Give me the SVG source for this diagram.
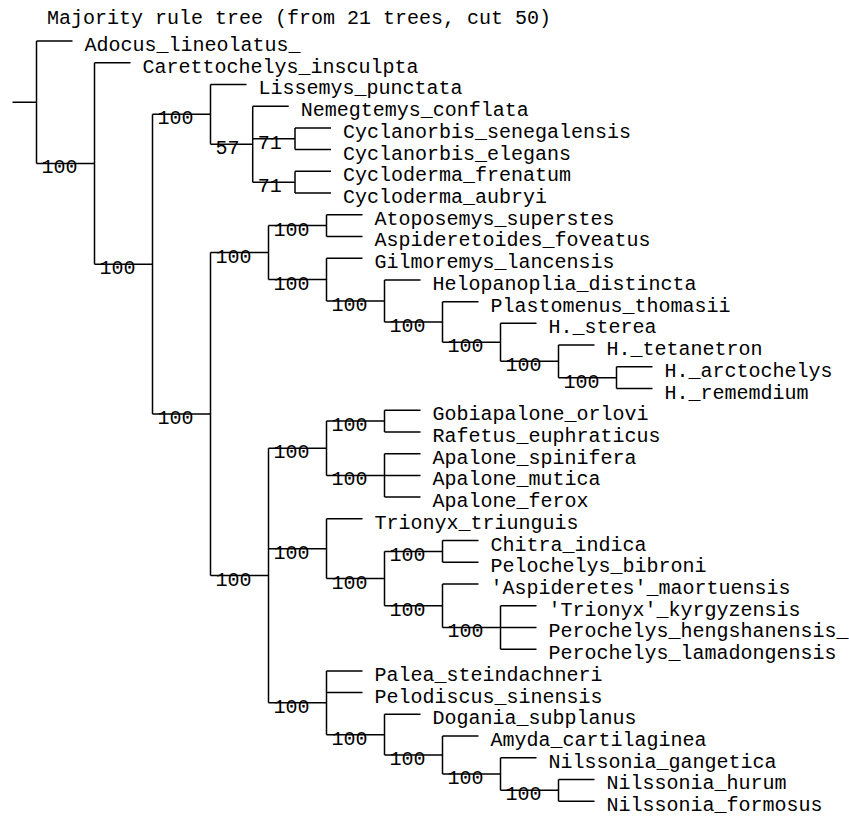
<svg xmlns="http://www.w3.org/2000/svg" width="849" height="816" viewBox="0 0 849 816">
<style>
text{font-family:"Liberation Mono","Courier New",monospace;font-size:20px;fill:#000}
.c path{fill:none;stroke:#000;stroke-width:1.5}
</style>
<rect width="849" height="816" fill="#fff"/>
<text id="title" x="47" y="23.5">Majority rule tree (from 21 trees, cut 50)</text>
<g class="c" id="connectors">
<path d="M12.5 102.23H36.5M36.5 41V163.45M36.5 41H72.5M36.5 163.45H94.5"/>
<path d="M94.5 62.72V264.18M94.5 62.72H130.5M94.5 264.18H152.5"/>
<path d="M152.5 114.31V414.06M152.5 114.31H210.5M152.5 414.06H210.5"/>
<path d="M210.5 84.44V144.17M210.5 84.44H246.5M210.5 144.17H252.7"/>
<path d="M252.7 106.16V182.18M252.7 106.16H288.7M252.7 138.74H295M252.7 182.18H295"/>
<path d="M295 127.88V149.6M295 127.88H331M295 149.6H331M295 171.32V193.04M295 171.32H331M295 193.04H331"/>
<path d="M210.5 252.6V575.52M210.5 252.6H268.5M210.5 575.52H268.5"/>
<path d="M268.5 225.62V279.58M268.5 225.62H326.5M268.5 279.58H326.5"/>
<path d="M326.5 214.76V236.48M326.5 214.76H362.5M326.5 236.48H362.5"/>
<path d="M326.5 258.2V300.96M326.5 258.2H362.5M326.5 300.96H384.5"/>
<path d="M384.5 279.92V322M384.5 279.92H420.5M384.5 322H442.5"/>
<path d="M442.5 301.64V342.37M442.5 301.64H478.5M442.5 342.37H500.5"/>
<path d="M500.5 323.36V361.37M500.5 323.36H536.5M500.5 361.37H558.5"/>
<path d="M558.5 345.08V377.66M558.5 345.08H594.5M558.5 377.66H616.5"/>
<path d="M616.5 366.8V388.52M616.5 366.8H652.5M616.5 388.52H652.5"/>
<path d="M268.5 448.25V702.78M268.5 448.25H326.5M268.5 548.71H326.5M268.5 702.78H326.5"/>
<path d="M326.5 421.1V475.4M326.5 421.1H384.5M326.5 475.4H384.5"/>
<path d="M384.5 410.24V431.96M384.5 410.24H420.5M384.5 431.96H420.5"/>
<path d="M384.5 453.68V497.12M384.5 453.68H420.5M384.5 475.4H420.5M384.5 497.12H420.5"/>
<path d="M326.5 518.84V578.57M326.5 518.84H362.5M326.5 578.57H384.5"/>
<path d="M384.5 551.42V605.72M384.5 551.42H442.5M384.5 605.72H442.5"/>
<path d="M442.5 540.56V562.28M442.5 540.56H478.5M442.5 562.28H478.5"/>
<path d="M442.5 584V627.44M442.5 584H478.5M442.5 627.44H500.5"/>
<path d="M500.5 605.72V649.16M500.5 605.72H536.5M500.5 627.44H536.5M500.5 649.16H536.5"/>
<path d="M326.5 670.88V734.68M326.5 670.88H362.5M326.5 692.6H362.5M326.5 734.68H384.5"/>
<path d="M384.5 714.32V755.05M384.5 714.32H420.5M384.5 755.05H442.5"/>
<path d="M442.5 736.04V774.05M442.5 736.04H478.5M442.5 774.05H500.5"/>
<path d="M500.5 757.76V790.34M500.5 757.76H536.5M500.5 790.34H558.5"/>
<path d="M558.5 779.48V801.2M558.5 779.48H594.5M558.5 801.2H594.5"/>
</g>
<g id="support">
<g id="n1"><text x="41.5" y="173.45">100</text></g>
<g id="n2"><text x="99.5" y="274.18">100</text></g>
<g id="n3"><text x="157.5" y="124.31">100</text></g>
<g id="n5"><text x="215.5" y="154.17">57</text></g>
<g id="n6"><text x="257.7" y="148.74">71</text></g>
<g id="n7"><text x="257.7" y="192.18">71</text></g>
<g id="n4"><text x="157.5" y="424.06">100</text></g>
<g id="n8"><text x="215.5" y="262.6">100</text></g>
<g id="n10"><text x="273.5" y="235.62">100</text></g>
<g id="n11"><text x="273.5" y="289.58">100</text></g>
<g id="n12"><text x="331.5" y="310.96">100</text></g>
<g id="n13"><text x="389.5" y="332">100</text></g>
<g id="n14"><text x="447.5" y="352.37">100</text></g>
<g id="n15"><text x="505.5" y="371.37">100</text></g>
<g id="n16"><text x="563.5" y="387.66">100</text></g>
<g id="n9"><text x="215.5" y="585.52">100</text></g>
<g id="n17"><text x="273.5" y="458.25">100</text></g>
<g id="n20"><text x="331.5" y="431.1">100</text></g>
<g id="n21"><text x="331.5" y="485.4">100</text></g>
<g id="n18"><text x="273.5" y="558.71">100</text></g>
<g id="n22"><text x="331.5" y="588.57">100</text></g>
<g id="n23"><text x="389.5" y="561.42">100</text></g>
<g id="n24"><text x="389.5" y="615.72">100</text></g>
<g id="n25"><text x="447.5" y="637.44">100</text></g>
<g id="n19"><text x="273.5" y="712.78">100</text></g>
<g id="n26"><text x="331.5" y="744.68">100</text></g>
<g id="n27"><text x="389.5" y="765.05">100</text></g>
<g id="n28"><text x="447.5" y="784.05">100</text></g>
<g id="n29"><text x="505.5" y="800.34">100</text></g>
</g>
<g id="taxa">
<g id="t0"><text x="84.5" y="51">Adocus_lineolatus_</text></g>
<g id="t1"><text x="142.5" y="72.72">Carettochelys_insculpta</text></g>
<g id="t2"><text x="258.5" y="94.44">Lissemys_punctata</text></g>
<g id="t3"><text x="300.7" y="116.16">Nemegtemys_conflata</text></g>
<g id="t4"><text x="343" y="137.88">Cyclanorbis_senegalensis</text></g>
<g id="t5"><text x="343" y="159.6">Cyclanorbis_elegans</text></g>
<g id="t6"><text x="343" y="181.32">Cycloderma_frenatum</text></g>
<g id="t7"><text x="343" y="203.04">Cycloderma_aubryi</text></g>
<g id="t8"><text x="374.5" y="224.76">Atoposemys_superstes</text></g>
<g id="t9"><text x="374.5" y="246.48">Aspideretoides_foveatus</text></g>
<g id="t10"><text x="374.5" y="268.2">Gilmoremys_lancensis</text></g>
<g id="t11"><text x="432.5" y="289.92">Helopanoplia_distincta</text></g>
<g id="t12"><text x="490.5" y="311.64">Plastomenus_thomasii</text></g>
<g id="t13"><text x="548.5" y="333.36">H._sterea</text></g>
<g id="t14"><text x="606.5" y="355.08">H._tetanetron</text></g>
<g id="t15"><text x="664.5" y="376.8">H._arctochelys</text></g>
<g id="t16"><text x="664.5" y="398.52">H._rememdium</text></g>
<g id="t17"><text x="432.5" y="420.24">Gobiapalone_orlovi</text></g>
<g id="t18"><text x="432.5" y="441.96">Rafetus_euphraticus</text></g>
<g id="t19"><text x="432.5" y="463.68">Apalone_spinifera</text></g>
<g id="t20"><text x="432.5" y="485.4">Apalone_mutica</text></g>
<g id="t21"><text x="432.5" y="507.12">Apalone_ferox</text></g>
<g id="t22"><text x="374.5" y="528.84">Trionyx_triunguis</text></g>
<g id="t23"><text x="490.5" y="550.56">Chitra_indica</text></g>
<g id="t24"><text x="490.5" y="572.28">Pelochelys_bibroni</text></g>
<g id="t25"><text x="490.5" y="594">'Aspideretes'_maortuensis</text></g>
<g id="t26"><text x="548.5" y="615.72">'Trionyx'_kyrgyzensis</text></g>
<g id="t27"><text x="548.5" y="637.44">Perochelys_hengshanensis_</text></g>
<g id="t28"><text x="548.5" y="659.16">Perochelys_lamadongensis</text></g>
<g id="t29"><text x="374.5" y="680.88">Palea_steindachneri</text></g>
<g id="t30"><text x="374.5" y="702.6">Pelodiscus_sinensis</text></g>
<g id="t31"><text x="432.5" y="724.32">Dogania_subplanus</text></g>
<g id="t32"><text x="490.5" y="746.04">Amyda_cartilaginea</text></g>
<g id="t33"><text x="548.5" y="767.76">Nilssonia_gangetica</text></g>
<g id="t34"><text x="606.5" y="789.48">Nilssonia_hurum</text></g>
<g id="t35"><text x="606.5" y="811.2">Nilssonia_formosus</text></g>
</g>
</svg>
